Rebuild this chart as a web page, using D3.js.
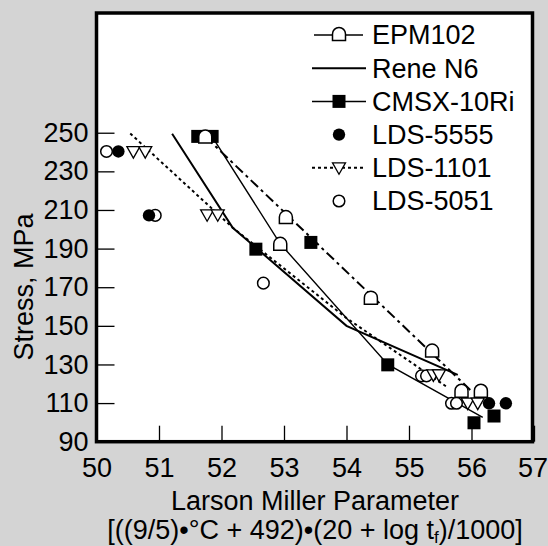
<!DOCTYPE html>
<html><head><meta charset="utf-8">
<script src="https://cdn.jsdelivr.net/npm/d3@7/dist/d3.min.js"></script>
<style>
html,body{margin:0;padding:0;background:#d4d4d4;}
text{font-family:"Liberation Sans",Arial,sans-serif;fill:#000;}
</style></head>
<body>
<svg id="chart" width="548" height="546"></svg>
<script>
// ---- data ----
const xTicks = [50, 51, 52, 53, 54, 55, 56, 57];
const yTicks = [90, 110, 130, 150, 170, 190, 210, 230, 250];
const seriesNames = ["EPM102", "Rene N6", "CMSX-10Ri", "LDS-5555", "LDS-1101", "LDS-5051"];

const epmPoints = [[51.74,248],[53.03,206.3],[52.94,192.5],[54.39,164.6],[55.37,137.2],[55.84,116.4],[56.15,116.4]];
const epmLine = [[51.74,248],[55.98,116.8]];
const reneLine = [[51.21,249.5],[52.18,200.8],[54.0,150],[55.78,124.6]];
const cmsxPoints = [[51.62,248.1],[51.85,248.1],[52.55,189.7],[53.43,193.2],[54.66,129.8],[56.04,99.8],[56.36,103.3]];
const cmsxLine = [[51.85,248],[52.94,192.5],[54.66,130],[56.18,102.6]];
const lds5555Points = [[50.35,240.3],[50.84,207.2],[56.28,109.9],[56.55,109.9]];
const lds1101Points = [[50.59,240.2],[50.78,240.2],[51.77,207.5],[51.94,207.5],[55.39,124.6],[55.48,124.6],[55.94,110],[56.10,110]];
const lds1101Line = [[50.54,249.6],[52.18,200.8],[54.0,154],[55.6,118.5]];
const lds5051Points = [[50.16,240.3],[50.94,207.2],[52.67,172.1],[55.20,124.1],[55.28,124.1],[55.68,109.9],[55.76,109.9]];

// ---- layout ----
const svg = d3.select("#chart");
const FS = 27;
const x = d3.scaleLinear().domain([50, 57]).range([96.5, 534]);
const y = d3.scaleLinear().domain([90, 312]).range([441.7, 13]);

svg.append("rect").attr("x", 96.5).attr("y", 13).attr("width", 436).attr("height", 428.7)
  .attr("fill", "#fff");

// axes
const gx = svg.append("g").attr("transform", "translate(0,441.7)")
  .call(d3.axisBottom(x).tickValues(xTicks).tickFormat(d3.format("d")).tickSize(-16).tickPadding(16));
gx.select(".domain").remove();
gx.selectAll("line").attr("stroke", "#000").attr("stroke-width", 1.3);
gx.selectAll("text").attr("font-size", FS).attr("font-family", "Liberation Sans, Arial, sans-serif");
gx.selectAll(".tick").filter(d => d === 57).select("text").attr("dx", -1.5);

const gy = svg.append("g").attr("transform", "translate(96.5,0)")
  .call(d3.axisLeft(y).tickValues(yTicks).tickFormat(d3.format("d")).tickSize(-18).tickPadding(8));
gy.select(".domain").remove();
gy.selectAll("line").attr("stroke", "#000").attr("stroke-width", 1.3);
gy.selectAll("text").attr("font-size", FS).attr("font-family", "Liberation Sans, Arial, sans-serif");

svg.append("rect").attr("x", 96.5).attr("y", 13).attr("width", 436).attr("height", 428.7)
  .attr("fill", "none").attr("stroke", "#000").attr("stroke-width", 3.5);

// titles
svg.append("text").attr("x", 315).attr("y", 510).attr("text-anchor", "middle")
  .attr("font-size", FS).text("Larson Miller Parameter");
const t2 = svg.append("text").attr("x", 315).attr("y", 539).attr("text-anchor", "middle").attr("font-size", FS);
t2.append("tspan").text("[((9/5)•°C + 492)•(20 + log t");
t2.append("tspan").attr("font-size", 17).attr("dy", 4).text("f");
t2.append("tspan").attr("dy", -4).text(")/1000]");
svg.append("text").attr("transform", "translate(33,287) rotate(-90)").attr("text-anchor", "middle")
  .attr("font-size", FS).text("Stress, MPa");

// marker generators
const archPath = "M-6.5,6.5L-6.5,0A6.5,6.5 0 0 1 6.5,0L6.5,6.5Z";
const triPath = "M-6.5,-5L6.5,-5L0,6.5Z";
function drawArch(g, px, py) {
  g.append("path").attr("d", archPath).attr("transform", `translate(${px},${py})`)
    .attr("fill", "#fff").attr("stroke", "#000").attr("stroke-width", 1.5);
}
function drawSquare(g, px, py) {
  g.append("rect").attr("x", px - 6.5).attr("y", py - 6.5).attr("width", 13).attr("height", 13).attr("fill", "#000");
}
function drawDot(g, px, py, filled) {
  g.append("circle").attr("cx", px).attr("cy", py).attr("r", filled ? 6.2 : 5.8)
    .attr("fill", filled ? "#000" : "#fff").attr("stroke", "#000").attr("stroke-width", filled ? 0 : 1.5);
}
function drawTri(g, px, py) {
  g.append("path").attr("d", triPath).attr("transform", `translate(${px},${py})`)
    .attr("fill", "#fff").attr("stroke", "#000").attr("stroke-width", 1.3);
}

const line = d3.line().x(d => x(d[0])).y(d => y(d[1]));
const plot = svg.append("g");

plot.append("path").datum(lds1101Line).attr("d", line).attr("fill", "none").attr("stroke", "#000")
  .attr("stroke-width", 2).attr("stroke-dasharray", "3,3");
plot.append("path").datum(reneLine).attr("d", line).attr("fill", "none").attr("stroke", "#000").attr("stroke-width", 2);
plot.append("path").datum(cmsxLine).attr("d", line).attr("fill", "none").attr("stroke", "#000").attr("stroke-width", 1.4);
plot.append("path").datum(epmLine).attr("d", line).attr("fill", "none").attr("stroke", "#000")
  .attr("stroke-width", 2).attr("stroke-dasharray", "10,4,3,4");

lds5051Points.forEach(d => drawDot(plot, x(d[0]), y(d[1]), false));
lds5555Points.forEach(d => drawDot(plot, x(d[0]), y(d[1]), true));
lds1101Points.forEach(d => drawTri(plot, x(d[0]), y(d[1])));
cmsxPoints.forEach(d => drawSquare(plot, x(d[0]), y(d[1])));
epmPoints.forEach(d => drawArch(plot, x(d[0]), y(d[1])));

// legend
const leg = svg.append("g");
const ly0 = 35, ldy = 33.2, lxText = 372, lxMark = 339;
seriesNames.forEach((name, i) => {
  const cy = ly0 + i * ldy;
  if (i === 0) {
    leg.append("line").attr("x1", 314).attr("x2", 363).attr("y1", cy).attr("y2", cy).attr("stroke", "#000").attr("stroke-width", 1.5);
    drawArch(leg, lxMark, cy - 1);
  } else if (i === 1) {
    leg.append("line").attr("x1", 312).attr("x2", 366).attr("y1", cy).attr("y2", cy).attr("stroke", "#000").attr("stroke-width", 2);
  } else if (i === 2) {
    leg.append("line").attr("x1", 312).attr("x2", 366).attr("y1", cy).attr("y2", cy).attr("stroke", "#000").attr("stroke-width", 1.5);
    drawSquare(leg, lxMark, cy);
  } else if (i === 3) {
    drawDot(leg, lxMark, cy, true);
  } else if (i === 4) {
    leg.append("line").attr("x1", 312).attr("x2", 363).attr("y1", cy).attr("y2", cy).attr("stroke", "#000")
      .attr("stroke-width", 2).attr("stroke-dasharray", "3,3");
    drawTri(leg, lxMark, cy);
  } else {
    drawDot(leg, lxMark, cy, false);
  }
  leg.append("text").attr("x", lxText).attr("y", cy).attr("dy", "0.35em").attr("font-size", FS).text(name);
});
</script>
</body></html>
